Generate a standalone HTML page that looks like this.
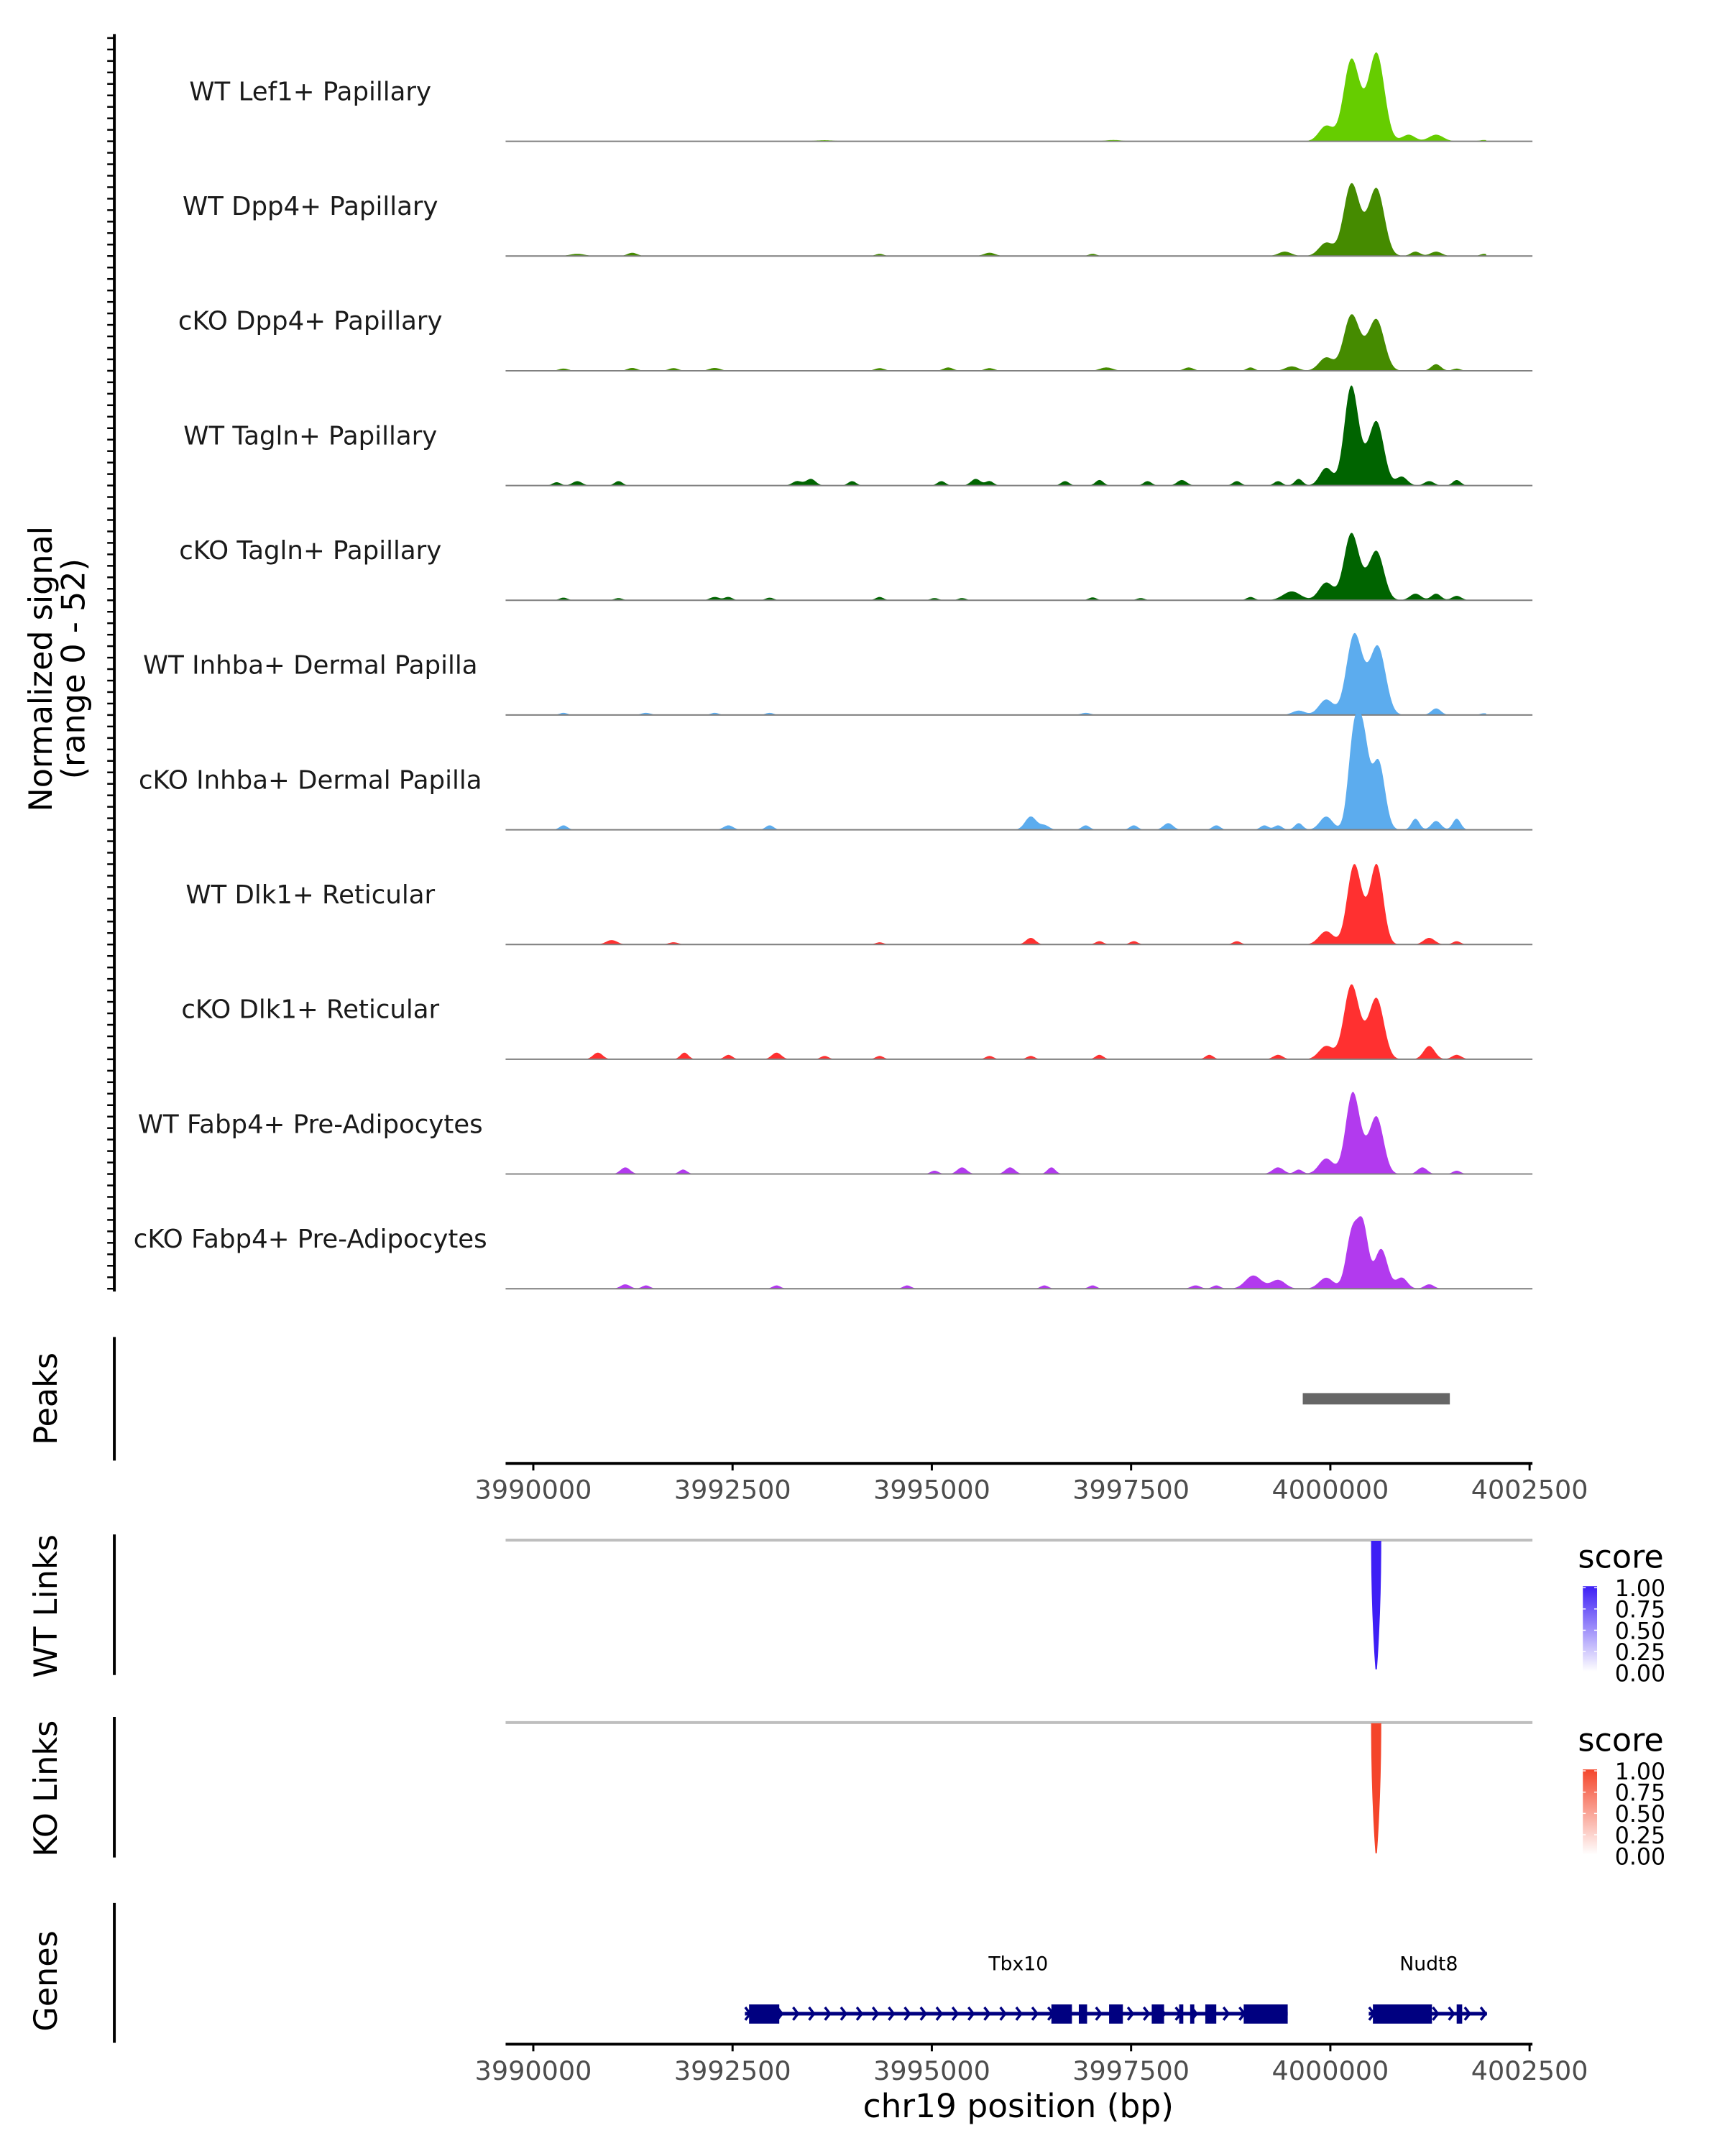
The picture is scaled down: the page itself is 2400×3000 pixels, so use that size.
<!DOCTYPE html>
<html><head><meta charset="utf-8"><style>
html,body{margin:0;padding:0;background:#fff}
svg{display:block;font-family:"DejaVu Sans","Liberation Sans",sans-serif}
</style></head><body>
<svg width="2400" height="3000" viewBox="0 0 2400 3000"><g id="chart" transform="scale(0.988)"></g></svg>
<script>
// ---- data ----
const trackNames = ["WT Lef1+ Papillary","WT Dpp4+ Papillary","cKO Dpp4+ Papillary","WT Tagln+ Papillary","cKO Tagln+ Papillary","WT Inhba+ Dermal Papilla","cKO Inhba+ Dermal Papilla","WT Dlk1+ Reticular","cKO Dlk1+ Reticular","WT Fabp4+ Pre-Adipocytes","cKO Fabp4+ Pre-Adipocytes"];
const trackColors = ["#66CD00","#458B00","#458B00","#006400","#006400","#5CACEE","#5CACEE","#FF3030","#FF3030","#B23AEE","#B23AEE"];
// bumps per track: [center bp, height (signal units), sigma bp]
const trackBumps = [
 [[4000258,34,95],[4000586,37,95],[3999948,7,90],[4000420,8,120],[4001327,3,90],[4000982,3,80],[3993655,0.5,120],[3997276,0.6,100],[4001930,0.6,60]],
 [[4000258,30,95],[4000586,28,95],[3999948,6,90],[4000420,7,120],[3999430,2,80],[4001327,2,70],[3991241,1.5,60],[3990552,1,90],[3995724,1.5,70],[3997017,1,50],[3994345,1,50],[4001930,1,50],[4001068,2,60]],
 [[4000258,23,95],[4000586,21,95],[4000420,6,120],[3999948,6,90],[4001327,3,60],[3990379,1,60],[3991241,1.3,60],[3992276,1.3,70],[3991759,1.2,60],[3994345,1.2,60],[3995206,1.5,60],[3995724,1.2,60],[3997190,1.5,80],[3998224,1.5,60],[3998999,1.5,50],[3999516,2,80],[4001585,1,50]],
 [[4000258,42,85],[4000586,26,90],[4000420,8,120],[3999948,8,80],[4000896,4,70],[3990293,1.5,50],[3990552,2,60],[3991069,2,50],[3993310,2,60],[3993483,3,60],[3994000,2,50],[3995120,2,50],[3995551,3,60],[3995724,2,50],[3996672,2,50],[3997103,2.5,50],[3997707,2,50],[3998137,2.5,60],[3998827,2,50],[3999344,2,50],[3999603,3,50],[4001240,2,60],[4001585,2.5,50]],
 [[4000258,28,90],[4000586,20,90],[4000420,6,120],[3999948,8,90],[3999516,4,110],[4001068,3,70],[4001327,3,60],[4001585,2,60],[3990379,1.2,50],[3991069,1,50],[3992276,1.5,60],[3992448,1.5,50],[3992965,1.2,50],[3994345,1.5,50],[3995034,1,50],[3995379,1,50],[3997017,1.3,50],[3997621,1,50],[3998999,1.5,50]],
 [[4000293,33,95],[4000603,28,95],[4000440,8,120],[3999948,7,90],[3999603,2,80],[4001327,3,60],[3990379,1,50],[3991414,1,60],[3992276,1,50],[3992965,1,50],[3996931,1,60],[4001930,0.8,50]],
 [[4000293,40,70],[4000413,38,70],[4000603,31,80],[3999948,6,80],[4001068,5,50],[4001327,4,60],[4001585,5,50],[3990379,2,50],[3992448,2,60],[3992965,2,50],[3996241,6,70],[3996413,2,60],[3996931,2,50],[3997534,2,50],[3997966,3,60],[3998569,2,50],[3999172,2,50],[3999344,2,50],[3999603,3,50]],
 [[4000293,33,85],[4000586,33,80],[4000440,8,110],[3999948,6,90],[4001240,3,70],[4001585,1.5,50],[3990983,2,70],[3991759,1,60],[3996241,3,60],[3997103,1.5,50],[3997534,1.5,50],[3998827,1.5,50],[3994345,1,50]],
 [[4000258,31,90],[4000586,25,90],[4000420,7,120],[3999948,6,90],[4001240,6,70],[4001585,2,60],[3990810,3,60],[3991896,3,50],[3993052,3,60],[3992448,2,50],[3993655,1.5,50],[3994345,1.5,50],[3995724,1.5,50],[3996241,1.5,50],[3997103,2,50],[3998482,2,50],[3999344,2,60]],
 [[4000276,34,85],[4000586,23,85],[4000430,7,120],[3999948,7,90],[3999344,3,70],[4001154,3,60],[4001585,1.5,50],[3991155,3,60],[3991879,2,50],[3995379,3,60],[3995982,3,60],[3996500,3,50],[3995034,1.5,50],[3999603,2,50]],
 [[4000276,26,75],[4000413,26,65],[4000637,18,80],[3999034,6,100],[3999344,4,90],[3999948,5,90],[4000896,5,70],[4001240,2,60],[3991155,2,60],[3991414,1.5,50],[3993052,1.5,50],[3994690,1.5,50],[3996413,1.5,50],[3997017,1.5,50],[3998310,1.5,60],[3998569,1.5,50]]
];
const signalRange = [3989700, 4001960];
const axisTicks = [3990000,3992500,3995000,3997500,4000000,4002500];
const peakRegions = [[3999654,4001499]];
const linkPositions = [[4000520,4000630]];
const geneNames = ["Tbx10","Nudt8"];
const geneSpans = [[3992655,3999465],[4000482,4001965]];
const geneExons = [
 [[3992707,3993086],[3996500,3996758],[3996844,3996948],[3997224,3997397],[3997759,3997914],[3998103,3998155],[3998241,3998293],[3998431,3998569],[3998913,3999465]],
 [[4000534,4001275],[4001585,4001654]]
];
const legendLabels = ["1.00","0.75","0.50","0.25","0.00"];

// ---- scales ----
const NS="http://www.w3.org/2000/svg";
const svg=document.getElementById('chart');
const X0=712, X1=2158;
function xs(bp){return 751+(bp-3990000)*(2154-751)/12500;}
const trackTop0=199, trackStep=161.6, unitPx=161.6/52;
function el(tag,attrs,parent){const e=document.createElementNS(NS,tag);for(const k in attrs)e.setAttribute(k,attrs[k]);(parent||svg).appendChild(e);return e;}
function txt(s,attrs,parent){const t=el('text',attrs,parent);t.textContent=s;return t;}

// left axis for signal
const yaxis=el('g',{});


el('line',{x1:161,y1:48,x2:161,y2:1819,stroke:'#000','stroke-width':4},yaxis);
for(let y=1815;y>=52;y-=trackStep/10){el('line',{x1:151,y1:y,x2:161,y2:y,stroke:'#000','stroke-width':2.5},yaxis);}
const yt=txt('',{transform:'translate(87,942) rotate(-90)','text-anchor':'middle','font-size':45,fill:'#000'});


el('tspan',{x:0,y:-14},yt).textContent='Normalized signal';
el('tspan',{x:0,y:32},yt).textContent='(range 0 - 52)';

// tracks
trackNames.forEach((name,i)=>{
  const base=trackTop0+i*trackStep;
  const g=el('g',{});
  
  
  const bumps=trackBumps[i];
  let d='M'+xs(signalRange[0]).toFixed(1)+','+base;
  for(let bp=signalRange[0];bp<=signalRange[1];bp+=12){
    let v=0;for(const b of bumps){const z=(bp-b[0])/b[2];if(Math.abs(z)<5)v+=b[1]*Math.exp(-0.5*z*z);}
    d+='L'+xs(bp).toFixed(1)+','+(base-v*unitPx).toFixed(1);
  }
  d+='L'+xs(signalRange[1]).toFixed(1)+','+base+'Z';
  const p=el('path',{d:d,fill:trackColors[i]},g);
  
  
  el('line',{x1:X0,y1:base,x2:X1,y2:base,stroke:'#7f7f7f','stroke-width':2},g);
  const t=txt(name,{x:437,y:base-58,'text-anchor':'middle','font-size':36,fill:'#1a1a1a'},g);
  
  
});

function sideLabel(s,y,y1,y2,name){
  const g=el('g',{});
  
  
  el('line',{x1:161,y1:y1,x2:161,y2:y2,stroke:'#000','stroke-width':4},g);
  txt(s,{transform:'translate(80,'+y+') rotate(-90)','text-anchor':'middle','font-size':45,fill:'#000'},g);
}
function xAxis(y,name){
  const g=el('g',{});
  
  
  el('line',{x1:X0,y1:y,x2:X1,y2:y,stroke:'#000','stroke-width':4},g);
  axisTicks.forEach(t=>{
    el('line',{x1:xs(t),y1:y,x2:xs(t),y2:y+10,stroke:'#000','stroke-width':3},g);
    txt(String(t),{x:xs(t),y:y+50,'text-anchor':'middle','font-size':37,fill:'#4d4d4d'},g);
  });
}

// peaks
sideLabel('Peaks',1970,1883,2057,'peaks-label');
peakRegions.forEach(r=>{
  const rc=el('rect',{x:xs(r[0]),y:1962,width:xs(r[1])-xs(r[0]),height:16,fill:'#666666'});
  
  
});
xAxis(2061,'peaks-x-axis');

// links
function linkPanel(label,lineY,depth,color,name,legY){
  sideLabel(label,lineY+93,lineY-8,lineY+190,name+'-label');
  el('line',{x1:X0,y1:lineY,x2:X1,y2:lineY,stroke:'#bebebe','stroke-width':4});
  linkPositions.forEach(l=>{
    const a=xs(l[0]),b=xs(l[1]),m=(a+b)/2;
    const p=el('path',{d:`M${a},${lineY+2} C${a},${lineY+depth*0.6} ${m},${lineY+depth} ${m},${lineY+depth} C${m},${lineY+depth} ${b},${lineY+depth*0.6} ${b},${lineY+2}Z`,fill:color,stroke:color,'stroke-width':2});
    
    
  });
  const lg=el('g',{});
  
  
  txt('score',{x:2222,y:legY+6,'font-size':45,fill:'#000'},lg);
  const gid='grad'+name;
  const defs=el('defs',{},lg);
  const gr=el('linearGradient',{id:gid,x1:0,y1:1,x2:0,y2:0},defs);
  el('stop',{offset:0,'stop-color':'#ffffff'},gr);
  el('stop',{offset:1,'stop-color':color},gr);
  el('rect',{x:2229,y:legY+32,width:20,height:120,fill:`url(#${gid})`},lg);
  legendLabels.forEach((s,k)=>{
    const yy=legY+34+k*30;
    el('line',{x1:2229,y1:yy,x2:2233,y2:yy,stroke:'#fff','stroke-width':1.5},lg);
    el('line',{x1:2245,y1:yy,x2:2249,y2:yy,stroke:'#fff','stroke-width':1.5},lg);
    txt(s,{x:2274,y:yy+12,'font-size':32,fill:'#000'},lg);
  });
}
linkPanel('WT Links',2169,182,'#3d1ff5','wt-links',2202);
linkPanel('KO Links',2426,184,'#f4452a','ko-links',2460);

// genes
sideLabel('Genes',2790,2680,2877,'genes-label');
const geneY=2836;
geneNames.forEach((n,i)=>{
  const g=el('g',{});
  
  
  const s=geneSpans[i];const y=geneY;
  el('line',{x1:xs(s[0]),y1:y,x2:xs(s[1]),y2:y,stroke:'#000080','stroke-width':5},g);
  for(let bp=s[0]+40;bp<s[1];bp+=200){
    const x=xs(bp);
    el('path',{d:`M${x-4},${y-9} L${x+3},${y} L${x-4},${y+9}`,fill:'none',stroke:'#000080','stroke-width':3.5},g);
  }
  geneExons[i].forEach(e=>el('rect',{x:xs(e[0]),y:y-13,width:Math.max(4,xs(e[1])-xs(e[0])),height:27,fill:'#000080'},g));
  const lx = i===0 ? 1434 : 2012;
  txt(n,{x:lx,y:2775,'text-anchor':'middle','font-size':27,fill:'#000'},g);
});
xAxis(2879,'genes-x-axis');
const xt=txt('chr19 position (bp)',{x:1434,y:2982,'text-anchor':'middle','font-size':46,fill:'#000'});


</script>
</body></html>
